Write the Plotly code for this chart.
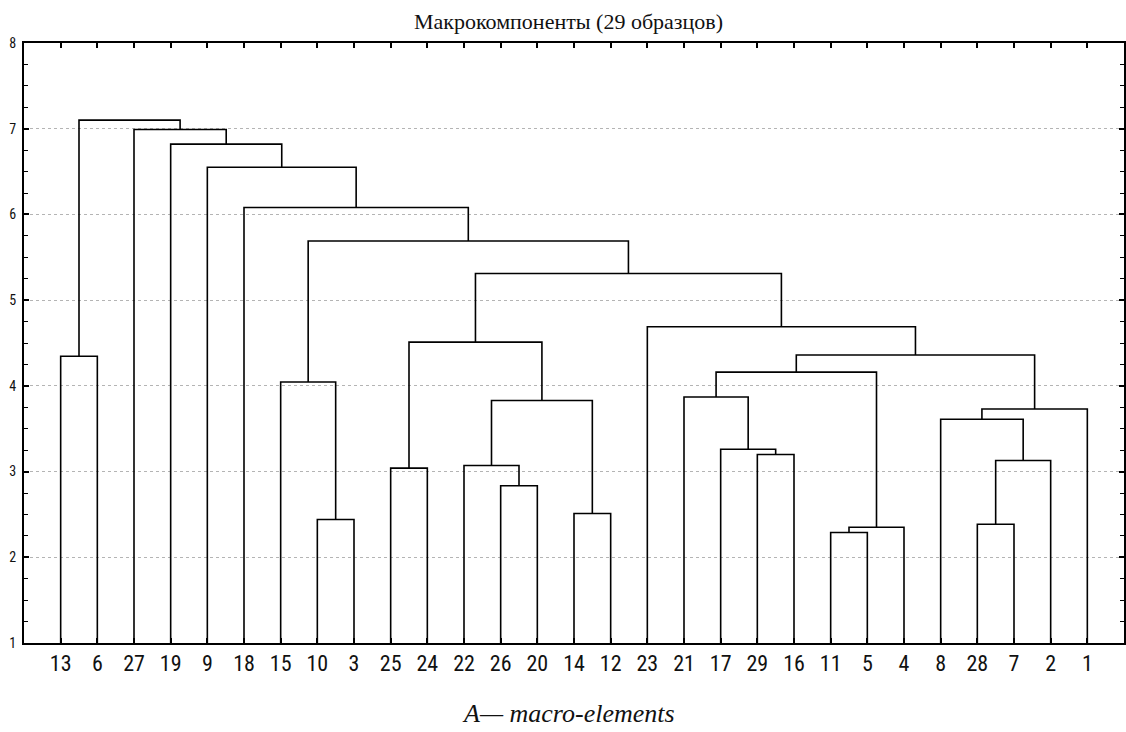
import plotly.graph_objects as go

# ---- data ----
leaf_order = [13, 6, 27, 19, 9, 18, 15, 10, 3, 25, 24, 22, 26, 20, 14, 12,
              23, 21, 17, 29, 16, 11, 5, 4, 8, 28, 7, 2, 1]

# merges: nodes are leaf labels (int) or "cK" (result of merge K)
merge_left = [11, "c0", 28, 10, 14, 26, 25, 22, "c2", 29, 17, 8, "c11", "c7",
              21, 15, "c14", 13, "c16", "c6", 23, "c19", "c15", 18, 9, 19, 27, "c17"]
merge_right = [5, 4, 7, 3, 12, 20, 24, "c5", 2, 16, "c9", "c8", 1, "c4",
               "c10", "c3", "c1", 6, "c12", "c13", "c18", "c20", "c21", "c22",
               "c23", "c24", "c25", "c26"]
merge_height = [2.29, 2.35, 2.385, 2.44, 2.51, 2.835, 3.04, 3.07, 3.13, 3.20,
                3.26, 3.61, 3.73, 3.83, 3.87, 4.045, 4.16, 4.345, 4.36, 4.51,
                4.69, 5.31, 5.69, 6.08, 6.55, 6.82, 6.99, 7.10]

title_text = "Макрокомпоненты (29 образцов)"
caption_text = "A— macro-elements"
y_min, y_max = 1, 8

# ---- build dendrogram segments ----
pos = {lab: i for i, lab in enumerate(leaf_order)}
hgt = {lab: float(y_min) for lab in leaf_order}
xs, ys = [], []
for k, (a, b, h) in enumerate(zip(merge_left, merge_right, merge_height)):
    xa, xb = pos[a], pos[b]
    xs += [xa, xa, xb, xb, None]
    ys += [hgt[a], h, h, hgt[b], None]
    key = "c%d" % k
    pos[key] = (xa + xb) / 2.0
    hgt[key] = h

fig = go.Figure()
fig.add_trace(go.Scatter(x=xs, y=ys, mode="lines",
                         line=dict(color="black", width=1.6),
                         hoverinfo="skip", showlegend=False))

tick_font_x = dict(family="Roboto Condensed, Liberation Sans, sans-serif",
                   size=22, color="#111")
tick_font_y = dict(family="Roboto Condensed, Liberation Sans, sans-serif",
                   size=14, color="#111")

fig.update_layout(
    width=1126, height=732,
    margin=dict(l=24, r=2, t=43, b=89),
    paper_bgcolor="white", plot_bgcolor="white",
    showlegend=False,
    xaxis=dict(range=[-1, len(leaf_order)], tickmode="array",
               tickvals=list(range(len(leaf_order))),
               ticktext=[str(v) for v in leaf_order],
               ticks="inside", ticklen=5, tickwidth=1.5, tickcolor="black",
               showline=True, linewidth=2, linecolor="black", mirror="ticks",
               showgrid=False, zeroline=False, tickfont=tick_font_x,
               ticklabelstandoff=0, automargin=False),
    yaxis=dict(range=[y_min, y_max], tick0=1, dtick=1,
               ticks="inside", ticklen=5, tickwidth=1.5, tickcolor="black",
               minor=dict(dtick=0.25, ticks="inside", ticklen=4, tickwidth=1.2,
                          tickcolor="black", showgrid=False),
               showline=True, linewidth=2, linecolor="black", mirror="ticks",
               showgrid=True, gridcolor="#b4b4b4", gridwidth=1, griddash="dot",
               zeroline=False, tickfont=tick_font_y, ticklabelstandoff=3,
               automargin=False),
)

fig.add_annotation(text=title_text, xref="paper", yref="paper", x=0.5, y=1,
                   xshift=-6, yshift=22, showarrow=False, yanchor="middle",
                   font=dict(family="Liberation Serif, Times New Roman, serif",
                             size=22, color="#111"))
fig.add_annotation(text="<i>" + caption_text + "</i>", xref="paper", yref="paper",
                   x=0.5, y=0, xshift=-6, yshift=-70, showarrow=False,
                   yanchor="middle",
                   font=dict(family="Liberation Serif, Times New Roman, serif",
                             size=26, color="#111"))

fig.write_html(
    "out.html",
    config={"responsive": False, "displayModeBar": False},
    post_script="document.body.style.margin='0';"
                "document.documentElement.style.overflow='hidden';",
)
